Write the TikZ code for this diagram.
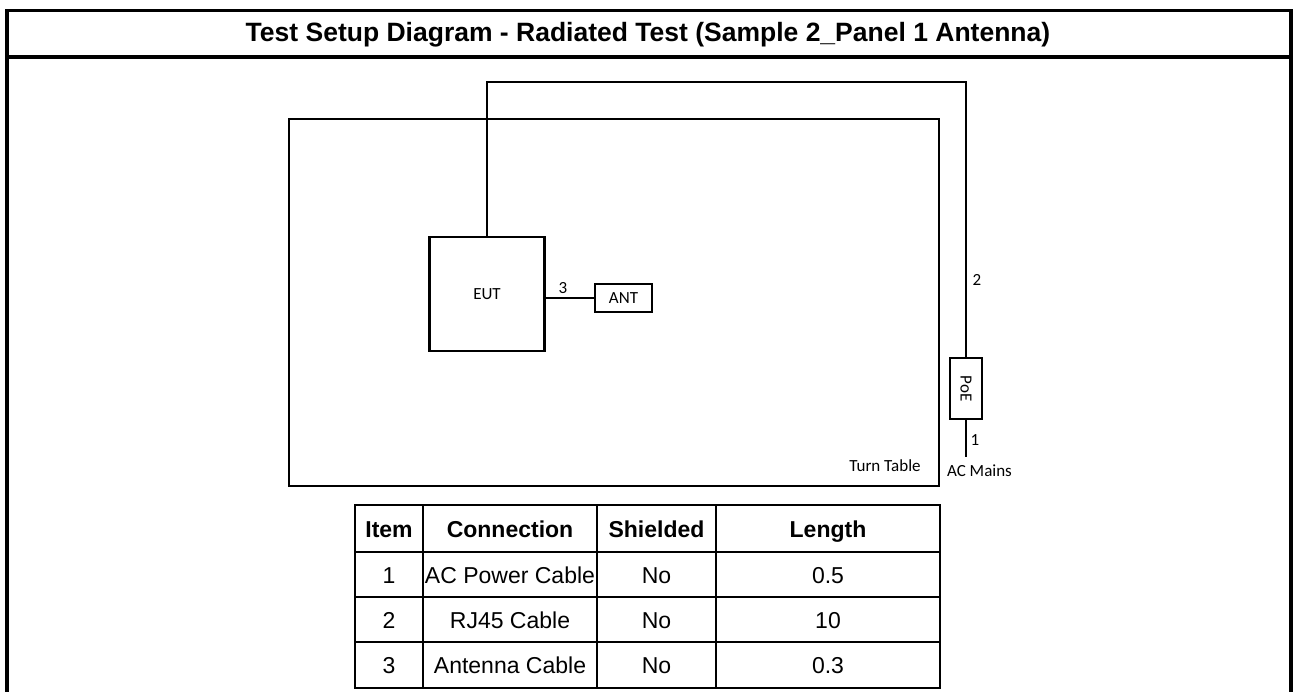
\documentclass[tikz,border=0pt]{standalone}
\usepackage{fontspec}
\setmainfont{Liberation Sans}
\newfontfamily\calfont{Carlito}
\usetikzlibrary{positioning}

\begin{document}
\begin{tikzpicture}[x=1pt, y=-1pt,
    unit/.style={rectangle, draw, line width=2.6pt, inner sep=0pt,
                 font=\calfont\fontsize{17}{20}\selectfont},
    cable/.style={line width=2.6pt},
    lbl/.style={font=\calfont\fontsize{17}{20}\selectfont, inner sep=0pt},
    cell/.style={font=\fontsize{23}{27}\selectfont, inner sep=0pt, anchor=base},
    head/.style={cell, font=\fontsize{23}{27}\selectfont\bfseries},
    grid/.style={line width=2pt}
  ]
    \useasboundingbox (0,0) rectangle (1293,692);

    % outer frame and title
    \draw[line width=3.5pt] (7,700) -- (7,10.5) -- (1291,10.5) -- (1291,700);
    \draw[line width=3.5pt] (7,57) -- (1291,57);
    \node[font=\fontsize{26.5}{30}\selectfont\bfseries, inner sep=0pt, anchor=base]
      (title) at (648,42) {Test Setup Diagram - Radiated Test (Sample 2\_Panel 1 Antenna)};

    % setup
    \node[unit, minimum width=650pt, minimum height=367pt] (turntable) at (614,302.5) {};
    \node[lbl] (ttlbl) at (885,466) {Turn Table};
    \node[unit, minimum width=115pt, minimum height=114pt] (eut) at (487,294) {EUT};
    \node[unit, minimum width=57pt, minimum height=28pt] (ant) at (623.5,298) {ANT};
    \node[unit, minimum width=32pt, minimum height=61pt] (poe) at (966,388.5) {};
    \node[lbl, rotate=-90] (poelbl) at (poe) {PoE};
    \coordinate (bend) at (727,82);
    \coordinate (mains) at (966,457);

    \draw[cable] (eut.north) |- (bend) -| (poe.north);
    \draw[cable] (ant.west) -- (ant.west -| eut.east);
    \draw[cable] (poe.south) -- (mains);

    \node[lbl] (c3) at (563,288) {3};
    \node[lbl] (c2) at (977,280) {2};
    \node[lbl] (c1) at (975,440) {1};
    \node[lbl] (aclbl) at (979.5,471) {AC Mains};

    % cable table
    \draw[grid] (355,505) rectangle (940,688);
    \foreach \y in {552,597,642}
      \draw[grid] (355,\y) -- (940,\y);
    \foreach \x in {423,597,716}
      \draw[grid] (\x,505) -- (\x,688);

    \node[head] (hitem) at (389,537) {Item};
    \node[head] (hconn) at (510,537) {Connection};
    \node[head] (hshld) at (656.5,537) {Shielded};
    \node[head] (hlen)  at (828,537) {Length};

    \foreach \i/\conn/\len/\y in {1/AC Power Cable/0.5/583, 2/RJ45 Cable/10/628, 3/Antenna Cable/0.3/673} {
      \node[cell] (item\i) at (389,\y) {\i};
      \node[cell] (conn\i) at (510,\y) {\conn};
      \node[cell] (shld\i) at (656.5,\y) {No};
      \node[cell] (len\i)  at (828,\y) {\len};
    }
\end{tikzpicture}
\end{document}
